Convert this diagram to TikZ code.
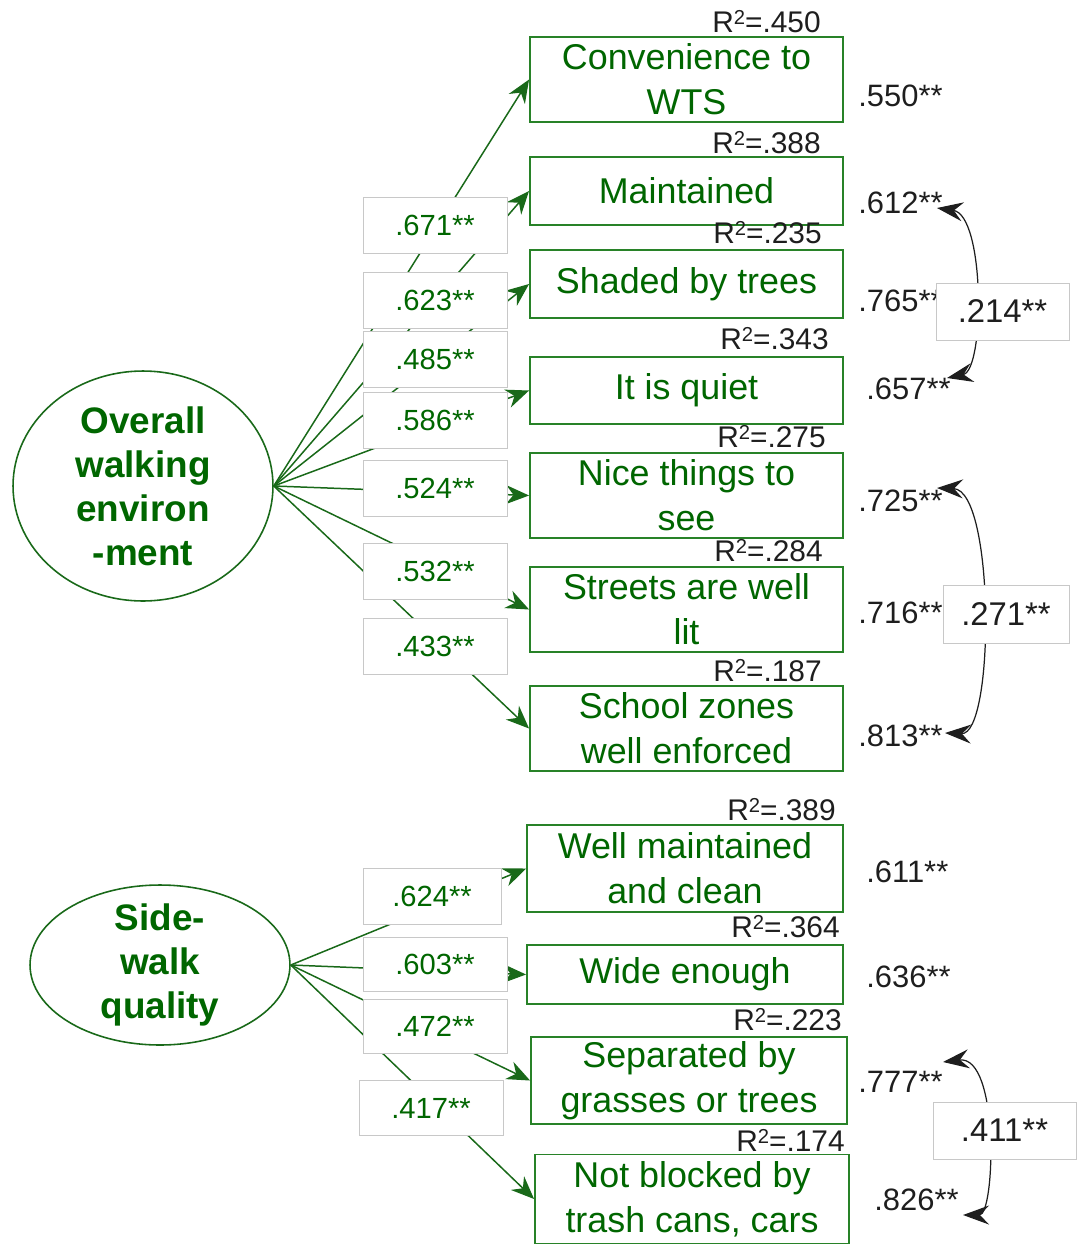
\documentclass[tikz,border=0pt]{standalone}
\usepackage{fontspec}
\setmainfont{Liberation Sans}
\usetikzlibrary{arrows.meta,shapes.geometric}
\definecolor{txtgreen}{RGB}{0,102,0}
\definecolor{boxgreen}{RGB}{40,130,40}
\definecolor{linegreen}{RGB}{25,105,25}
\definecolor{lblgray}{RGB}{200,200,200}
\definecolor{inkdark}{RGB}{30,30,30}
% R squared with a small, slightly raised 2
\newcommand\rsqtext[1]{R\raisebox{4.6pt}{\fontsize{11.5}{12}\selectfont 2}=#1}

\begin{document}
\begin{tikzpicture}[x=0.02cm,y=-0.02cm,
  obs/.style={draw=boxgreen, line width=1.1pt, fill=white, inner sep=0pt, align=center,
    text=txtgreen, font=\fontsize{20.4}{25.5}\selectfont},
  latent/.style={draw=linegreen, line width=0.9pt, ellipse, inner sep=0pt},
  lattext/.style={text=txtgreen, font=\bfseries\fontsize{21}{25}\selectfont, align=center},
  coef/.style={draw=lblgray, line width=0.5pt, fill=white, text=txtgreen,
    font=\fontsize{16.6}{20}\selectfont, minimum width=2.88cm, minimum height=1.12cm, inner sep=0pt},
  resid/.style={anchor=west, font=\fontsize{17.6}{20}\selectfont, text=inkdark, inner sep=0pt},
  rsq/.style={anchor=east, font=\fontsize{17}{20}\selectfont, text=inkdark, inner sep=0pt},
  corr/.style={draw=lblgray, line width=0.5pt, fill=white, text=inkdark,
    font=\fontsize{18.7}{22}\selectfont, inner sep=0pt},
  load/.style={draw=linegreen, line width=0.85pt,
    -{Stealth[length=0.46cm,width=0.38cm,inset=0.15cm]}},
  cov/.style={draw=inkdark, line width=0.7pt,
    {Stealth[length=0.52cm,width=0.38cm,inset=0.18cm]}-{Stealth[length=0.52cm,width=0.38cm,inset=0.18cm]}}
]
\useasboundingbox (0,0) rectangle (1077,1244);

% latent factors
\node[latent, minimum width=5.2cm, minimum height=4.6cm,
  label={[lattext]center:{Overall\\walking\\environ\\-ment}}] (e1) at (143,486) {};
\node[latent, minimum width=5.2cm, minimum height=3.2cm,
  label={[lattext]center:{Side-\\walk\\quality}}] (e2) at (160,965) {};

% observed indicators
\node[obs, minimum width=6.26cm, minimum height=1.70cm] (b1) at (686.5,79.5) {Convenience to\\WTS};
\node[obs, minimum width=6.26cm, minimum height=1.36cm] (b2) at (686.5,191) {Maintained};
\node[obs, minimum width=6.26cm, minimum height=1.36cm] (b3) at (686.5,284) {Shaded by trees};
\node[obs, minimum width=6.26cm, minimum height=1.34cm] (b4) at (686.5,390.5) {It is quiet};
\node[obs, minimum width=6.26cm, minimum height=1.70cm] (b5) at (686.5,495.5) {Nice things to\\see};
\node[obs, minimum width=6.26cm, minimum height=1.70cm] (b6) at (686.5,609.5) {Streets are well\\lit};
\node[obs, minimum width=6.26cm, minimum height=1.70cm] (b7) at (686.5,728.5) {School zones\\well enforced};
\node[obs, minimum width=6.32cm, minimum height=1.74cm] (b8) at (685,868.5) {Well maintained\\and clean};
\node[obs, minimum width=6.32cm, minimum height=1.18cm] (b9) at (685,974.5) {Wide enough};
\node[obs, minimum width=6.32cm, minimum height=1.74cm] (b10) at (689,1080.5) {Separated by\\grasses or trees};
\node[obs, minimum width=6.28cm, minimum height=1.78cm] (b11) at (692,1199) {Not blocked by\\trash cans, cars};

% factor loadings
\foreach \b in {b1,b2,b3,b4,b5,b6,b7} \draw[load] (e1.east) -- (\b.west);
\foreach \b in {b8,b9,b10,b11} \draw[load] (e2.east) -- (\b.west);

% loading labels
\node[coef] (l1) at (435,225) {.671**};
\node[coef] (l2) at (435,300) {.623**};
\node[coef] (l3) at (435,359) {.485**};
\node[coef] (l4) at (435,420) {.586**};
\node[coef] (l5) at (435,488) {.524**};
\node[coef] (l6) at (435,571) {.532**};
\node[coef] (l7) at (435,646) {.433**};
\node[coef, minimum width=2.76cm] (l8) at (432,896) {.624**};
\node[coef, minimum height=1.08cm] (l9) at (435,964) {.603**};
\node[coef, minimum height=1.08cm] (l10) at (435,1026) {.472**};
\node[coef, minimum height=1.10cm] (l11) at (431,1108) {.417**};

% squared multiple correlations
\node[rsq] (q1) at (821,22) {\rsqtext{.450}};
\node[rsq] (q2) at (821,143) {\rsqtext{.388}};
\node[rsq] (q3) at (822,233) {\rsqtext{.235}};
\node[rsq] (q4) at (829,339) {\rsqtext{.343}};
\node[rsq] (q5) at (826,437) {\rsqtext{.275}};
\node[rsq] (q6) at (823,551) {\rsqtext{.284}};
\node[rsq] (q7) at (822,671) {\rsqtext{.187}};
\node[rsq] (q8) at (836,810) {\rsqtext{.389}};
\node[rsq] (q9) at (840,927) {\rsqtext{.364}};
\node[rsq] (q10) at (842,1020) {\rsqtext{.223}};
\node[rsq] (q11) at (845,1140) {\rsqtext{.174}};

% residual variances
\node[resid] (r1) at (858,96) {.550**};
\node[resid] (r2) at (858,203) {.612**};
\node[resid] (r3) at (858,301) {.765**};
\node[resid] (r4) at (866,389) {.657**};
\node[resid] (r5) at (858,501) {.725**};
\node[resid] (r6) at (858,613) {.716**};
\node[resid] (r7) at (858,736) {.813**};
\node[resid] (r8) at (866,872) {.611**};
\node[resid] (r9) at (866,977) {.636**};
\node[resid] (r10) at (858,1082) {.777**};
\node[resid] (r11) at (874,1200) {.826**};

% error covariances
\coordinate (u1) at (937,208);  \coordinate (v1) at (947,378);
\coordinate (u2) at (937,488);  \coordinate (v2) at (945,733);
\coordinate (u3) at (943,1062); \coordinate (v3) at (963,1215);
\draw[cov] (u1) .. controls (985,215) and (985,370) .. (v1);
\draw[cov] (u2) .. controls (995,490) and (995,735) .. (v2);
\draw[cov] (u3) .. controls (1000,1055) and (995,1215) .. (v3);

\node[corr, minimum width=2.66cm, minimum height=1.14cm] (k1) at (1002.5,311.5) {.214**};
\node[corr, minimum width=2.52cm, minimum height=1.16cm] (k2) at (1006,614) {.271**};
\node[corr, minimum width=2.86cm, minimum height=1.14cm] (k3) at (1004.5,1130.5) {.411**};
\end{tikzpicture}
\end{document}
